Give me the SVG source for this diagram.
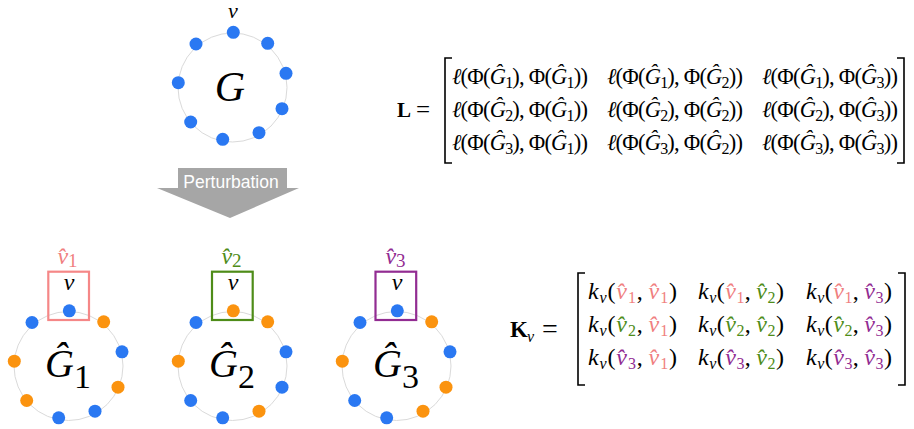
<svg xmlns="http://www.w3.org/2000/svg" width="914" height="429" viewBox="0 0 914 429">
<style>
.ring{fill:none;stroke:#dadada;stroke-width:1}
.b{fill:#2a78f2}
.o{fill:#fb930f}
.m{font-family:"Liberation Serif","DejaVu Serif",serif;fill:#000}
.it{font-style:italic}
.s{font-size:16px}
.L{font-size:22.5px}
.K{font-size:24px}
.br{fill:none;stroke:#000;stroke-width:1.6}
.pk{fill:#f07f7f}
.gr{fill:#4e8c18}
.pu{fill:#922c92}
.box{fill:none;stroke-width:2.2}
</style>

<g id="G">
  <circle class="ring" cx="232.5" cy="87.5" r="54.5"/>
  <circle class="b" cx="233.3" cy="32.3" r="6.5"/>
  <circle class="b" cx="267.7" cy="43.3" r="6.5"/>
  <circle class="b" cx="286" cy="73.3" r="6.5"/>
  <circle class="b" cx="282" cy="108.7" r="6.5"/>
  <circle class="b" cx="259" cy="132.7" r="6.5"/>
  <circle class="b" cx="222.7" cy="139.3" r="6.5"/>
  <circle class="b" cx="190.7" cy="122" r="6.5"/>
  <circle class="b" cx="178.3" cy="82.7" r="6.5"/>
  <circle class="b" cx="196" cy="44" r="6.5"/>
  <text class="m it" x="233" y="18" font-size="22" text-anchor="middle">v</text>
  <text class="m it" x="230" y="101" font-size="42" text-anchor="middle">G</text>
</g>

<g id="perturbation">
  <polygon points="178,168 287,168 287,188 299,188 230,218 157,188 178,188" fill="#a6a6a6"/>
  <text x="231" y="188" font-family="'Liberation Sans','Noto Sans',sans-serif" font-size="17.5" fill="#fff" text-anchor="middle">Perturbation</text>
</g>

<g id="G1" transform="translate(-164,278.5)">
  <circle class="ring" cx="232.5" cy="87.5" r="54.5"/>
  <circle class="b" cx="233.3" cy="32.3" r="6.5"/>
  <circle class="o" cx="267.7" cy="43.3" r="6.5"/>
  <circle class="b" cx="286" cy="73.3" r="6.5"/>
  <circle class="o" cx="282" cy="108.7" r="6.5"/>
  <circle class="b" cx="259" cy="132.7" r="6.5"/>
  <circle class="b" cx="222.7" cy="139.3" r="6.5"/>
  <circle class="o" cx="190.7" cy="122" r="6.5"/>
  <circle class="o" cx="178.3" cy="82.7" r="6.5"/>
  <circle class="b" cx="196" cy="44" r="6.5"/>
  <rect class="box" x="212.3" y="-6.8" width="40.7" height="48.3" stroke="#f58787"/>
  <text class="m it" x="233" y="11" font-size="24" text-anchor="middle">v</text>
  <text class="m pk" x="231.5" y="-14.5" font-size="24" text-anchor="middle"><tspan class="it">v&#x302;</tspan><tspan font-size="19" dy="3">1</tspan></text>
  <text class="m" x="209" y="98.5" font-size="40"><tspan class="it">&#x11C;</tspan><tspan font-size="34" dy="11">1</tspan></text>
</g>

<g id="G2" transform="translate(0,278.5)">
  <circle class="ring" cx="232.5" cy="87.5" r="54.5"/>
  <circle class="o" cx="233.3" cy="32.3" r="6.5"/>
  <circle class="o" cx="267.7" cy="43.3" r="6.5"/>
  <circle class="b" cx="286" cy="73.3" r="6.5"/>
  <circle class="b" cx="282" cy="108.7" r="6.5"/>
  <circle class="o" cx="259" cy="132.7" r="6.5"/>
  <circle class="b" cx="222.7" cy="139.3" r="6.5"/>
  <circle class="b" cx="190.7" cy="122" r="6.5"/>
  <circle class="o" cx="178.3" cy="82.7" r="6.5"/>
  <circle class="b" cx="196" cy="44" r="6.5"/>
  <rect class="box" x="212" y="-6.8" width="40.7" height="48.3" stroke="#4e8c18"/>
  <text class="m it" x="233" y="11" font-size="24" text-anchor="middle">v</text>
  <text class="m gr" x="231.5" y="-14.5" font-size="24" text-anchor="middle"><tspan class="it">v&#x302;</tspan><tspan font-size="19" dy="3">2</tspan></text>
  <text class="m" x="209" y="98.5" font-size="40"><tspan class="it">&#x11C;</tspan><tspan font-size="34" dy="11">2</tspan></text>
</g>

<g id="G3" transform="translate(164,278.5)">
  <circle class="ring" cx="232.5" cy="87.5" r="54.5"/>
  <circle class="b" cx="233.3" cy="32.3" r="6.5"/>
  <circle class="o" cx="267.7" cy="43.3" r="6.5"/>
  <circle class="b" cx="286" cy="73.3" r="6.5"/>
  <circle class="o" cx="282" cy="108.7" r="6.5"/>
  <circle class="o" cx="259" cy="132.7" r="6.5"/>
  <circle class="b" cx="222.7" cy="139.3" r="6.5"/>
  <circle class="b" cx="190.7" cy="122" r="6.5"/>
  <circle class="o" cx="178.3" cy="82.7" r="6.5"/>
  <circle class="b" cx="196" cy="44" r="6.5"/>
  <rect class="box" x="211.5" y="-6.8" width="40.7" height="48.3" stroke="#922c92"/>
  <text class="m it" x="233" y="11" font-size="24" text-anchor="middle">v</text>
  <text class="m pu" x="231.5" y="-14.5" font-size="24" text-anchor="middle"><tspan class="it">v&#x302;</tspan><tspan font-size="19" dy="3">3</tspan></text>
  <text class="m" x="209" y="98.5" font-size="40"><tspan class="it">&#x11C;</tspan><tspan font-size="34" dy="11">3</tspan></text>
</g>

<g id="L-matrix">
  <text class="m" x="397" y="117" font-size="21" font-weight="bold">L</text>
  <text class="m" x="416" y="118" font-size="25">=</text>
  <path class="br" d="M452,58 H445 V163 H452"/>
  <path class="br" d="M897,58 H904 V163 H897"/>
  <g class="m L">
    <text x="452" y="84" textLength="136" lengthAdjust="spacing"><tspan class="it">ℓ</tspan>(Φ(<tspan class="it">&#x11C;</tspan><tspan class="s" dy="4">1</tspan><tspan dy="-4">), Φ(</tspan><tspan class="it">&#x11C;</tspan><tspan class="s" dy="4">1</tspan><tspan dy="-4">))</tspan></text>
    <text x="607" y="84" textLength="136" lengthAdjust="spacing"><tspan class="it">ℓ</tspan>(Φ(<tspan class="it">&#x11C;</tspan><tspan class="s" dy="4">1</tspan><tspan dy="-4">), Φ(</tspan><tspan class="it">&#x11C;</tspan><tspan class="s" dy="4">2</tspan><tspan dy="-4">))</tspan></text>
    <text x="762" y="84" textLength="136" lengthAdjust="spacing"><tspan class="it">ℓ</tspan>(Φ(<tspan class="it">&#x11C;</tspan><tspan class="s" dy="4">1</tspan><tspan dy="-4">), Φ(</tspan><tspan class="it">&#x11C;</tspan><tspan class="s" dy="4">3</tspan><tspan dy="-4">))</tspan></text>
    <text x="452" y="117" textLength="136" lengthAdjust="spacing"><tspan class="it">ℓ</tspan>(Φ(<tspan class="it">&#x11C;</tspan><tspan class="s" dy="4">2</tspan><tspan dy="-4">), Φ(</tspan><tspan class="it">&#x11C;</tspan><tspan class="s" dy="4">1</tspan><tspan dy="-4">))</tspan></text>
    <text x="607" y="117" textLength="136" lengthAdjust="spacing"><tspan class="it">ℓ</tspan>(Φ(<tspan class="it">&#x11C;</tspan><tspan class="s" dy="4">2</tspan><tspan dy="-4">), Φ(</tspan><tspan class="it">&#x11C;</tspan><tspan class="s" dy="4">2</tspan><tspan dy="-4">))</tspan></text>
    <text x="762" y="117" textLength="136" lengthAdjust="spacing"><tspan class="it">ℓ</tspan>(Φ(<tspan class="it">&#x11C;</tspan><tspan class="s" dy="4">2</tspan><tspan dy="-4">), Φ(</tspan><tspan class="it">&#x11C;</tspan><tspan class="s" dy="4">3</tspan><tspan dy="-4">))</tspan></text>
    <text x="452" y="150" textLength="136" lengthAdjust="spacing"><tspan class="it">ℓ</tspan>(Φ(<tspan class="it">&#x11C;</tspan><tspan class="s" dy="4">3</tspan><tspan dy="-4">), Φ(</tspan><tspan class="it">&#x11C;</tspan><tspan class="s" dy="4">1</tspan><tspan dy="-4">))</tspan></text>
    <text x="607" y="150" textLength="136" lengthAdjust="spacing"><tspan class="it">ℓ</tspan>(Φ(<tspan class="it">&#x11C;</tspan><tspan class="s" dy="4">3</tspan><tspan dy="-4">), Φ(</tspan><tspan class="it">&#x11C;</tspan><tspan class="s" dy="4">2</tspan><tspan dy="-4">))</tspan></text>
    <text x="762" y="150" textLength="136" lengthAdjust="spacing"><tspan class="it">ℓ</tspan>(Φ(<tspan class="it">&#x11C;</tspan><tspan class="s" dy="4">3</tspan><tspan dy="-4">), Φ(</tspan><tspan class="it">&#x11C;</tspan><tspan class="s" dy="4">3</tspan><tspan dy="-4">))</tspan></text>
  </g>
</g>

<g id="K-matrix">
  <text class="m" x="510" y="337" font-size="23" font-weight="bold">K</text>
  <text class="m it" x="527" y="342" font-size="16">v</text>
  <text class="m" x="542" y="338" font-size="28">=</text>
  <path class="br" d="M585,273 H578 V385 H585"/>
  <path class="br" d="M898,273 H905 V385 H898"/>
  <g class="m K">
    <text x="588" y="299" textLength="89" lengthAdjust="spacing"><tspan class="it">k</tspan><tspan class="it s" dy="4">v</tspan><tspan dy="-4">(</tspan><tspan class="it pk">v&#x302;</tspan><tspan class="s pk" dy="4">1</tspan><tspan dy="-4">,</tspan><tspan class="it pk" dx="5">v&#x302;</tspan><tspan class="s pk" dy="4">1</tspan><tspan dy="-4">)</tspan></text>
    <text x="698" y="299" textLength="86" lengthAdjust="spacing"><tspan class="it">k</tspan><tspan class="it s" dy="4">v</tspan><tspan dy="-4">(</tspan><tspan class="it pk">v&#x302;</tspan><tspan class="s pk" dy="4">1</tspan><tspan dy="-4">,</tspan><tspan class="it gr" dx="5">v&#x302;</tspan><tspan class="s gr" dy="4">2</tspan><tspan dy="-4">)</tspan></text>
    <text x="806" y="299" textLength="86" lengthAdjust="spacing"><tspan class="it">k</tspan><tspan class="it s" dy="4">v</tspan><tspan dy="-4">(</tspan><tspan class="it pk">v&#x302;</tspan><tspan class="s pk" dy="4">1</tspan><tspan dy="-4">,</tspan><tspan class="it pu" dx="5">v&#x302;</tspan><tspan class="s pu" dy="4">3</tspan><tspan dy="-4">)</tspan></text>
    <text x="588" y="332" textLength="89" lengthAdjust="spacing"><tspan class="it">k</tspan><tspan class="it s" dy="4">v</tspan><tspan dy="-4">(</tspan><tspan class="it gr">v&#x302;</tspan><tspan class="s gr" dy="4">2</tspan><tspan dy="-4">,</tspan><tspan class="it pk" dx="5">v&#x302;</tspan><tspan class="s pk" dy="4">1</tspan><tspan dy="-4">)</tspan></text>
    <text x="698" y="332" textLength="86" lengthAdjust="spacing"><tspan class="it">k</tspan><tspan class="it s" dy="4">v</tspan><tspan dy="-4">(</tspan><tspan class="it gr">v&#x302;</tspan><tspan class="s gr" dy="4">2</tspan><tspan dy="-4">,</tspan><tspan class="it gr" dx="5">v&#x302;</tspan><tspan class="s gr" dy="4">2</tspan><tspan dy="-4">)</tspan></text>
    <text x="806" y="332" textLength="86" lengthAdjust="spacing"><tspan class="it">k</tspan><tspan class="it s" dy="4">v</tspan><tspan dy="-4">(</tspan><tspan class="it gr">v&#x302;</tspan><tspan class="s gr" dy="4">2</tspan><tspan dy="-4">,</tspan><tspan class="it pu" dx="5">v&#x302;</tspan><tspan class="s pu" dy="4">3</tspan><tspan dy="-4">)</tspan></text>
    <text x="588" y="365" textLength="89" lengthAdjust="spacing"><tspan class="it">k</tspan><tspan class="it s" dy="4">v</tspan><tspan dy="-4">(</tspan><tspan class="it pu">v&#x302;</tspan><tspan class="s pu" dy="4">3</tspan><tspan dy="-4">,</tspan><tspan class="it pk" dx="5">v&#x302;</tspan><tspan class="s pk" dy="4">1</tspan><tspan dy="-4">)</tspan></text>
    <text x="698" y="365" textLength="86" lengthAdjust="spacing"><tspan class="it">k</tspan><tspan class="it s" dy="4">v</tspan><tspan dy="-4">(</tspan><tspan class="it pu">v&#x302;</tspan><tspan class="s pu" dy="4">3</tspan><tspan dy="-4">,</tspan><tspan class="it gr" dx="5">v&#x302;</tspan><tspan class="s gr" dy="4">2</tspan><tspan dy="-4">)</tspan></text>
    <text x="806" y="365" textLength="86" lengthAdjust="spacing"><tspan class="it">k</tspan><tspan class="it s" dy="4">v</tspan><tspan dy="-4">(</tspan><tspan class="it pu">v&#x302;</tspan><tspan class="s pu" dy="4">3</tspan><tspan dy="-4">,</tspan><tspan class="it pu" dx="5">v&#x302;</tspan><tspan class="s pu" dy="4">3</tspan><tspan dy="-4">)</tspan></text>
  </g>
</g>
</svg>
